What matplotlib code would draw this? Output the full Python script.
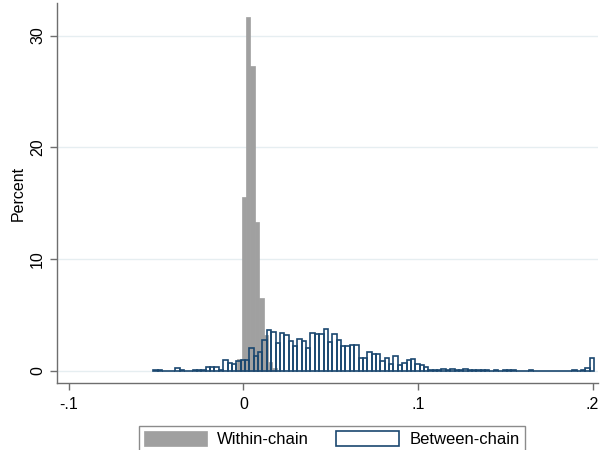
import matplotlib
matplotlib.use("Agg")
import matplotlib.pyplot as plt
import numpy as np

plt.rcParams['font.family'] = ['Liberation Sans', 'DejaVu Sans']

# bin setup (histogram widths)
bin_width = 0.0025
within_start = -0.0035
between_start = -0.0516

# percent per bin
within_pct = [1.1, 15.6, 31.7, 27.3, 13.3, 6.5, 3.2, 0.8, 0.3]
between_pct = [
    0.1, 0.1, 0, 0, 0, 0.3, 0.1, 0, 0, 0.1,
    0.1, 0.1, 0.4, 0.4, 0.4, 0.1, 1.0, 0.7, 0.6, 0.9,
    1.0, 1.0, 2.1, 1.3, 1.7, 2.8, 3.7, 3.5, 2.5, 3.4,
    3.2, 2.7, 2.2, 2.9, 2.7, 2.1, 3.4, 3.3, 3.3, 3.75,
    2.6, 3.35, 2.8, 2.2, 2.2, 2.3, 2.3, 1.2, 1.2, 1.7,
    1.5, 1.5, 0.9, 1.2, 0.6, 1.3, 0.5, 0.7, 1.0, 1.1,
    0.6, 0.5, 0.4, 0.1, 0.1, 0.1, 0.2, 0.1, 0.2, 0.1,
    0.1, 0.2, 0.1, 0.1, 0.1, 0.1, 0.1, 0, 0.1, 0,
    0.1, 0.1, 0.1, 0, 0, 0, 0.1, 0, 0, 0,
    0, 0, 0, 0, 0, 0, 0.1, 0, 0.1, 0.3,
    1.15,
]
xticks = [-0.1, 0, 0.1, 0.2]
xticklabels = ["-.1", "0", ".1", ".2"]
yticks = [0, 10, 20, 30]

gray = "#a0a0a0"
navy = "#1a476f"

fig = plt.figure(figsize=(6, 4.5), dpi=100)
ax = fig.add_axes([0.095, 0.149, 0.902, 0.844])

w_left = within_start + bin_width * np.arange(len(within_pct))
b_left = between_start + bin_width * np.arange(len(between_pct))

ax.bar(w_left, within_pct, width=bin_width, align='edge', color=gray,
       edgecolor=gray, linewidth=0.5, label="Within-chain", zorder=2)
ax.bar(b_left, between_pct, width=bin_width, align='edge', facecolor='none',
       edgecolor=navy, linewidth=1.2, label="Between-chain", zorder=3)

ax.set_xlim(-0.1068, 0.2032)
ax.set_ylim(-1.07, 32.9)
ax.set_xticks(xticks)
ax.set_xticklabels(xticklabels)
ax.set_yticks(yticks)
ax.set_yticklabels([str(v) for v in yticks], rotation=90, va='center')
ax.set_ylabel("Percent", fontsize=11.5, labelpad=3)

for s in ['top', 'right']:
    ax.spines[s].set_visible(False)
for s in ['left', 'bottom']:
    ax.spines[s].set_color("#6e6e6e")
    ax.spines[s].set_linewidth(1.0)
ax.tick_params(axis='both', direction='out', length=5, color="#6e6e6e",
               labelsize=11.5, width=1.0)
ax.tick_params(axis='x', pad=5)
ax.yaxis.grid(True, color="#e6eef1", linewidth=1.0, zorder=0)
ax.set_axisbelow(True)

handles, labels = ax.get_legend_handles_labels()
leg = fig.legend(handles, labels, loc='upper center', ncol=2,
                 bbox_to_anchor=(0.553, 0.053), fontsize=12, frameon=True,
                 fancybox=False, edgecolor="#6e6e6e", handlelength=3.8,
                 handleheight=1.0, columnspacing=1.6, borderpad=0.3,
                 borderaxespad=0.0, handletextpad=0.6)
leg.get_frame().set_linewidth(1.0)

fig.savefig("out.png", dpi=100)
